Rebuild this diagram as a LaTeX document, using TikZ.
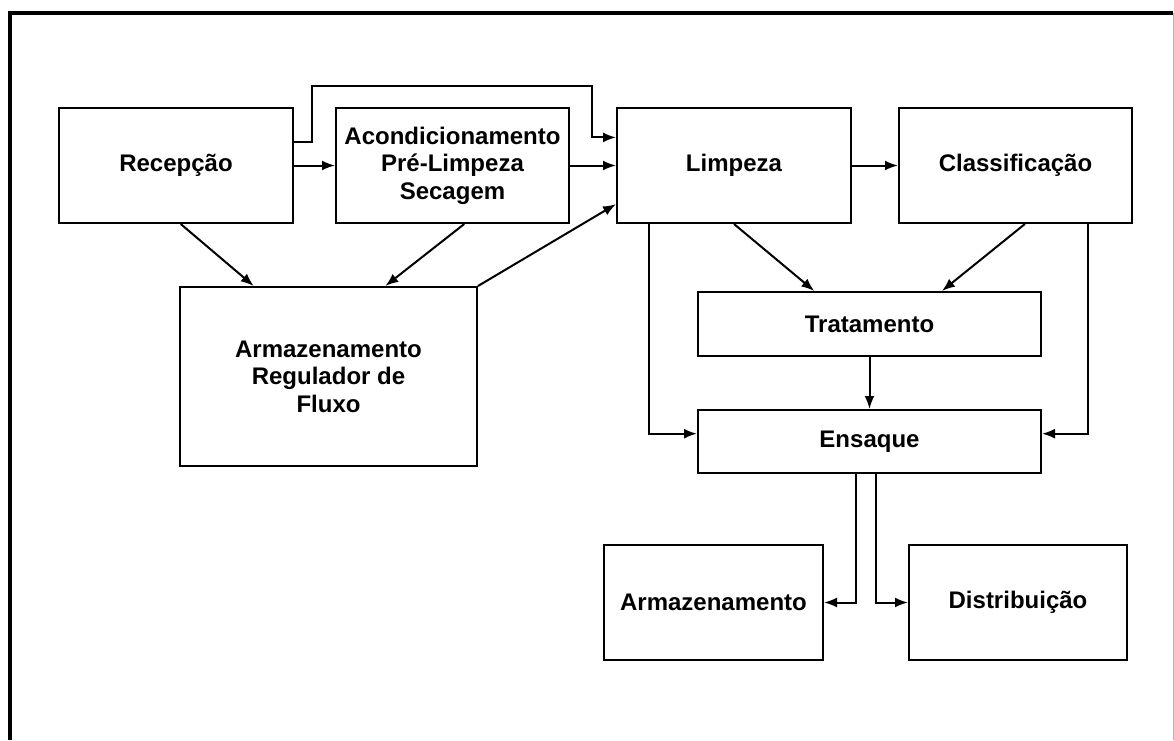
\documentclass[tikz,border=0pt]{standalone}
\usepackage{fontspec}
\setmainfont{Liberation Sans}
\usetikzlibrary{arrows.meta,calc}

\begin{document}
\begin{tikzpicture}[x=0.5pt,y=-0.5pt,
    stage/.style={rectangle, draw, line width=1pt, inner sep=0pt, align=center,
      font=\fontsize{12}{13.7}\selectfont\bfseries},
    flow/.style={-{Latex[length=6.5pt,width=5pt]}, line width=1pt}]
    \useasboundingbox (0,0) rectangle (1174,740);
    \draw[line width=2pt] (10,740) -- (10,13) -- (1173,13);
    \draw[gray!60, line width=0.5pt] (1173,13) -- (1173,740);

    \node[stage, minimum width=117pt, minimum height=57.5pt] (Recepcao) at (176,165.5) {Recepção};
    \node[stage, minimum width=116.5pt, minimum height=57.5pt] (Acond) at (452.5,165.5) {Acondicionamento\\Pré-Limpeza\\Secagem};
    \node[stage, minimum width=117pt, minimum height=57.5pt] (Limpeza) at (734,165.5) {Limpeza};
    \node[stage, minimum width=116.5pt, minimum height=57.5pt] (Classif) at (1015.5,165.5) {Classificação};
    \node[stage, minimum width=148.5pt, minimum height=89.5pt] (Regulador) at (328.5,376.5) {Armazenamento\\Regulador de\\Fluxo};
    \node[stage, minimum width=171.5pt, minimum height=32pt] (Tratamento) at (869.5,324) {Tratamento};
    \node[stage, minimum width=171.5pt, minimum height=31.5pt] (Ensaque) at (869.5,441.5) {Ensaque};
    \node[stage, minimum width=109.5pt, minimum height=57.5pt] (Armazem) at (713.5,602.5) {Armazenamento};
    \node[stage, minimum width=109pt, minimum height=57.5pt] (Distrib) at (1018,602.5) {Distribuição};

    \coordinate (ByLeft) at (312,86);
    \coordinate (ByRight) at (592,86);

    \draw[flow] (Recepcao) -- (Acond);
    \draw[flow] ($(Recepcao.north east)!0.3!(Recepcao.south east)$) -| (ByLeft) -- (ByRight) |- ($(Limpeza.north west)!0.26!(Limpeza.south west)$);
    \draw[flow] (Acond) -- (Limpeza);
    \draw[flow] (Limpeza) -- (Classif);
    \draw[flow] ($(Recepcao.south west)!0.52!(Recepcao.south east)$) -- ($(Regulador.north west)!0.25!(Regulador.north east)$);
    \draw[flow] ($(Acond.south west)!0.55!(Acond.south east)$) -- ($(Regulador.north west)!0.69!(Regulador.north east)$);
    \draw[flow] (Regulador.north east) -- ($(Limpeza.north west)!0.83!(Limpeza.south west)$);
    \draw[flow] (Limpeza.south) -- ($(Tratamento.north west)!0.34!(Tratamento.north east)$);
    \draw[flow] ($(Classif.south west)!0.54!(Classif.south east)$) -- ($(Tratamento.north west)!0.71!(Tratamento.north east)$);
    \draw[flow] ($(Limpeza.south west)!0.14!(Limpeza.south east)$) |- ($(Ensaque.north west)!0.38!(Ensaque.south west)$);
    \draw[flow] ($(Classif.south west)!0.81!(Classif.south east)$) |- ($(Ensaque.north east)!0.38!(Ensaque.south east)$);
    \draw[flow] (Tratamento) -- (Ensaque);
    \draw[flow] ($(Ensaque.south west)!0.46!(Ensaque.south east)$) |- (Armazem.east);
    \draw[flow] ($(Ensaque.south west)!0.52!(Ensaque.south east)$) |- (Distrib.west);
\end{tikzpicture}
\end{document}
